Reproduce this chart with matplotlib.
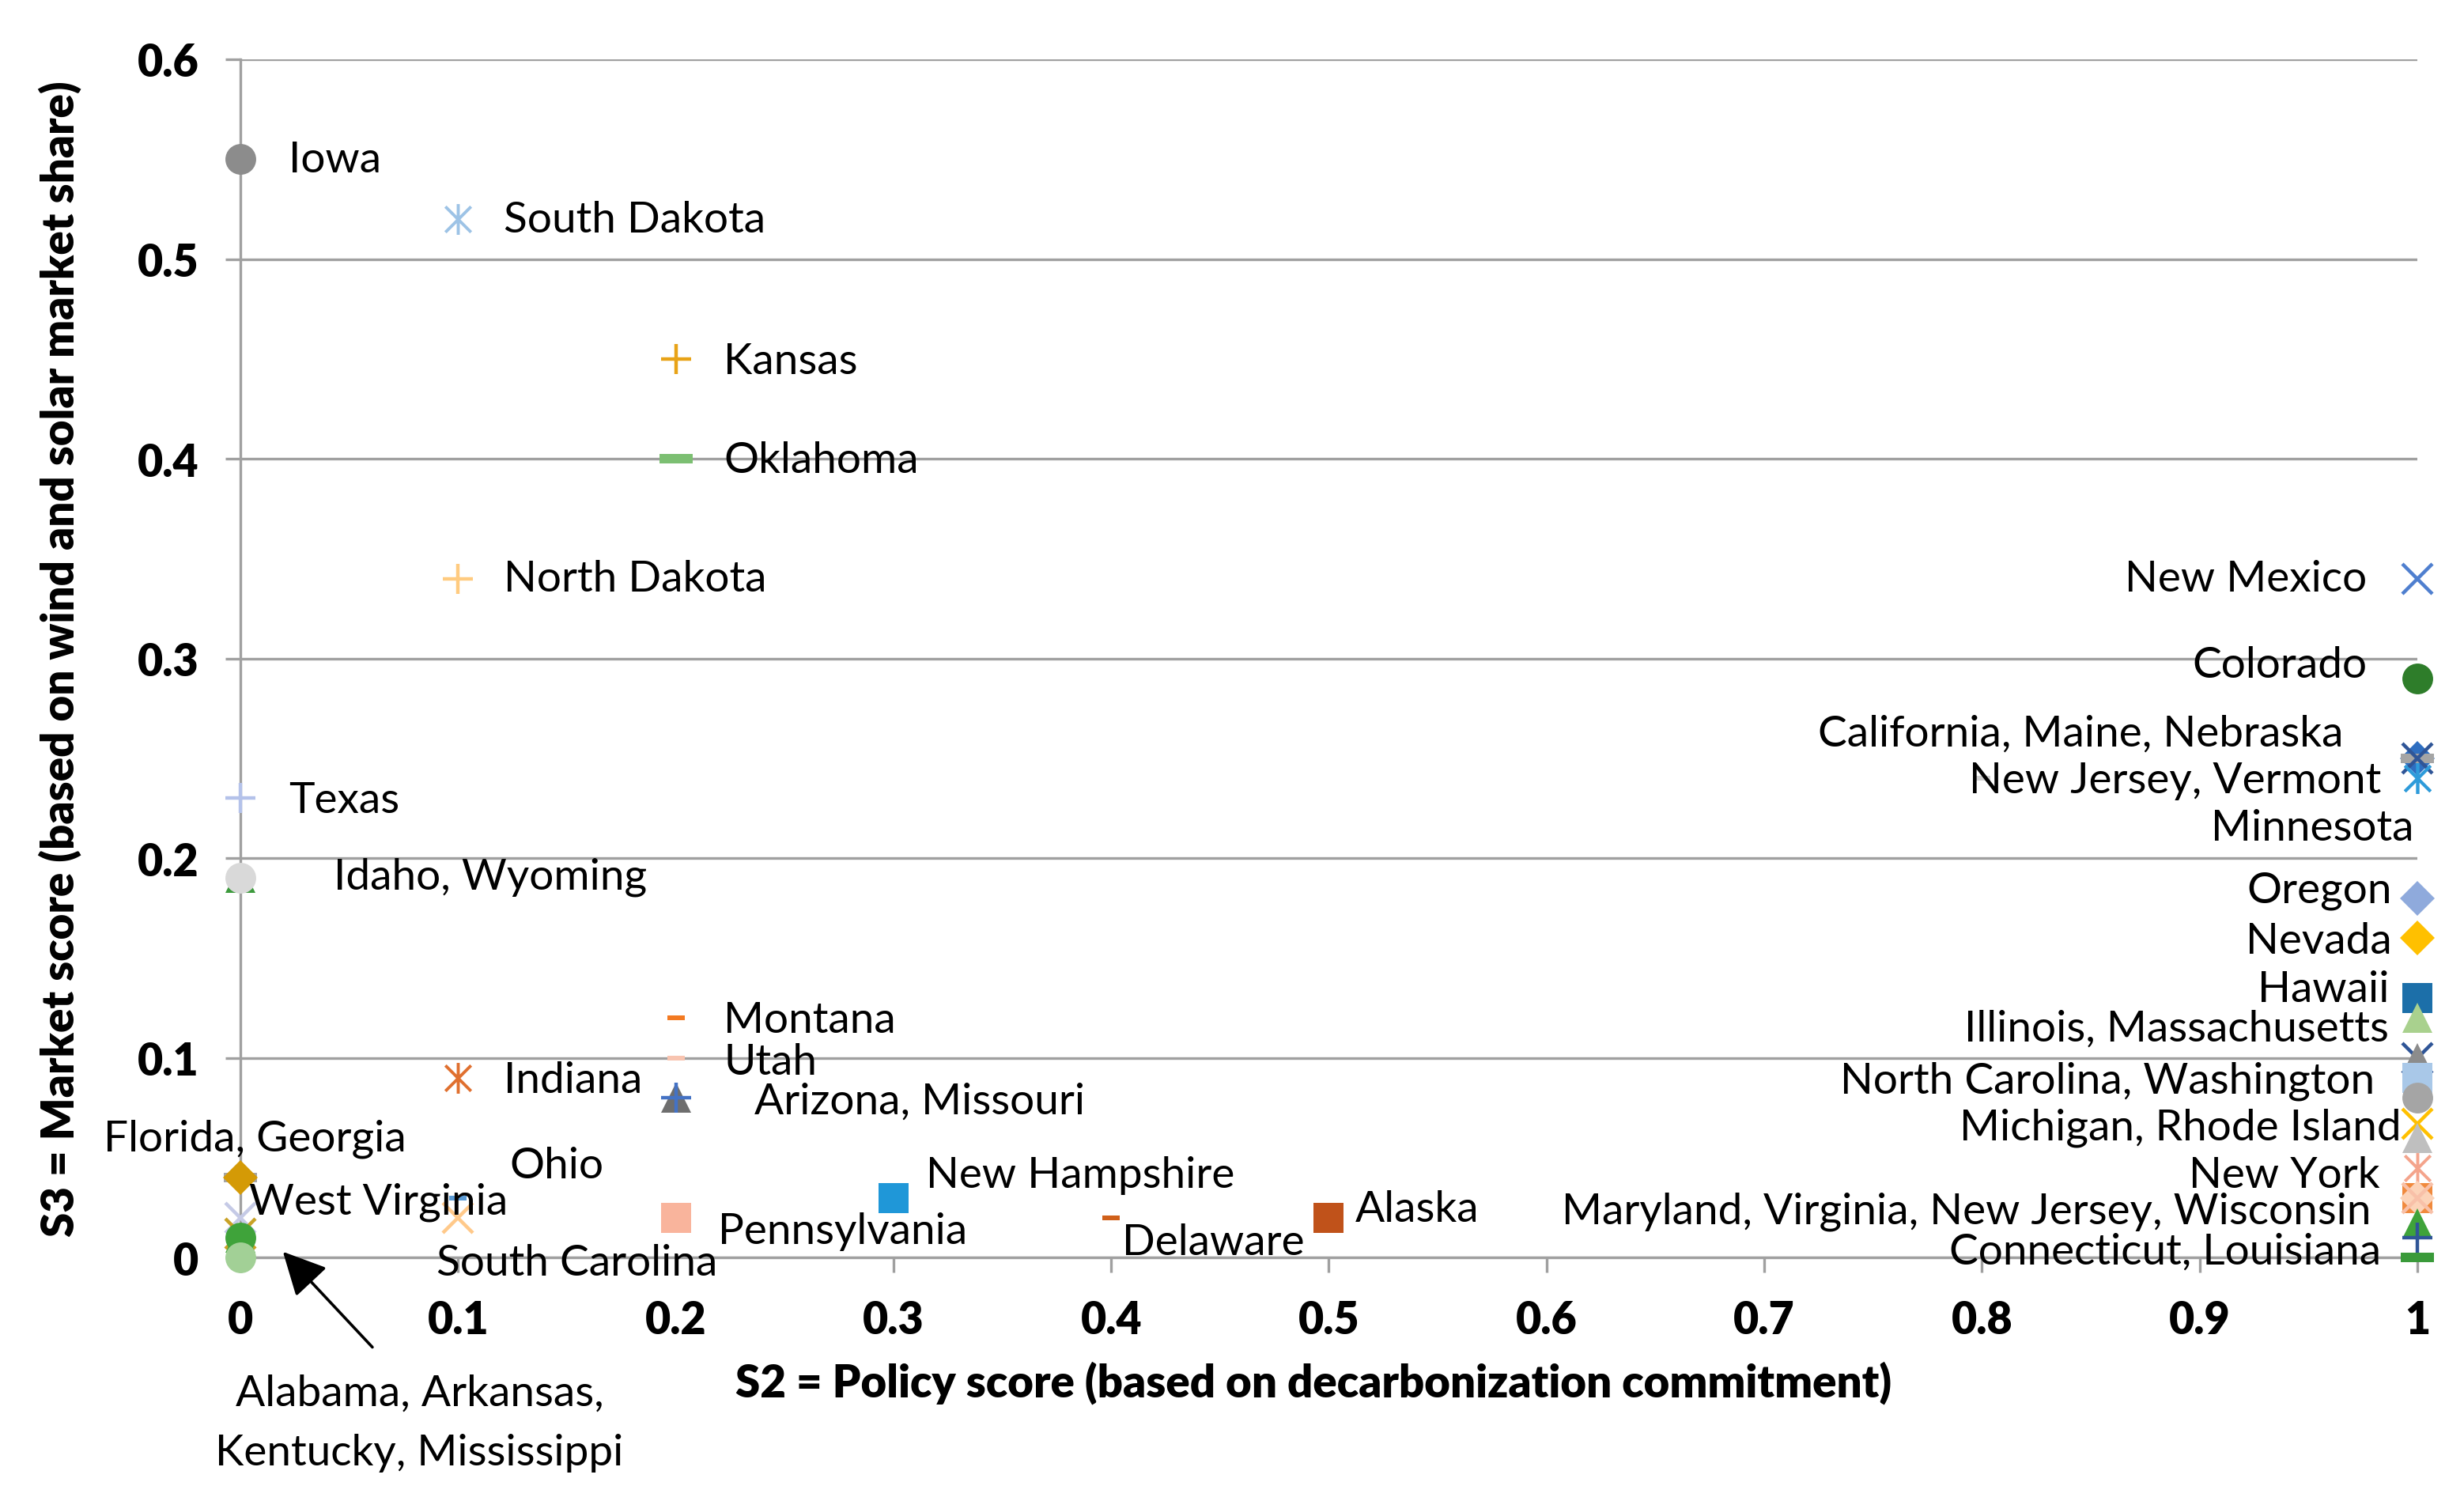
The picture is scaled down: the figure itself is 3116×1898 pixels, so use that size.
import numpy as np
import matplotlib
matplotlib.use("Agg")
import matplotlib.pyplot as plt
from matplotlib.path import Path

plt.rcParams['font.family'] = ['Lato', 'DejaVu Sans']

# ---- data: one entry per plotted marker ----
states = ['Iowa', 'South Dakota', 'Kansas', 'Oklahoma', 'North Dakota', 'Texas',
          'Wyoming', 'Idaho', 'Montana', 'Utah', 'Indiana', 'Missouri', 'Arizona',
          'Georgia', 'Florida', 'West Virginia', 'Ohio', 'South Carolina',
          'Pennsylvania', 'New Hampshire', 'Delaware', 'Alaska',
          'Alabama', 'Arkansas', 'Kentucky', 'Mississippi',
          'New Mexico', 'Colorado', 'California', 'Maine', 'Nebraska',
          'New Jersey', 'Vermont', 'Minnesota', 'Oregon', 'Nevada', 'Hawaii',
          'Illinois', 'Massachusetts', 'Massachusetts (2)', 'North Carolina',
          'Washington', 'Michigan', 'Rhode Island', 'New York', 'Maryland',
          'Virginia', 'New Jersey (2)', 'Wisconsin', 'Connecticut', 'Louisiana']
s2 = [0, 0.1, 0.2, 0.2, 0.1, 0,
      0, 0, 0.2, 0.2, 0.1, 0.2, 0.2,
      0, 0, 0, 0.1, 0.1,
      0.2, 0.3, 0.4, 0.5,
      0, 0, 0, 0,
      1, 1, 1, 1, 1,
      1, 1, 0.8, 1, 1, 1,
      1, 1, 1, 1,
      1, 1, 1, 1, 1,
      1, 1, 1, 1, 1]
s3 = [0.55, 0.52, 0.45, 0.40, 0.34, 0.23,
      0.19, 0.19, 0.12, 0.10, 0.09, 0.08, 0.08,
      0.04, 0.04, 0.02, 0.03, 0.02,
      0.02, 0.03, 0.02, 0.02,
      0.012, 0.01, 0.01, 0.0,
      0.34, 0.29, 0.25, 0.25, 0.25,
      0.24, 0.24, 0.24, 0.18, 0.16, 0.13,
      0.12, 0.10, 0.10, 0.09,
      0.08, 0.067, 0.06, 0.045, 0.03,
      0.03, 0.03, 0.017, 0.01, 0.0]

# ---- marker styles (same order as the data) ----
markers = ['o', 'star', '+', 'dash', '+', '+',
           '^', 'o', 'dash_s', 'dash_s', 'star', '^', '+',
           'dash', 'D', 'x', 'dash_s', 'x',
           's', 's', 'dash_s', 's',
           'x', '^', 'o', 'o',
           'x', 'o', 'D', 'dash', 'x',
           'star', 'star', 'dash_s', 'D', 'D', 's',
           '^', 'x', '^', 's',
           'o', 'x', '^', 'star', 's',
           'D', 'x', '^', '+', 'dash']
colors = ['#8C8C8C', '#9DC3E6', '#E8A317', '#7CBF72', '#FFCB80', '#B4C2EA',
          '#3C9A3C', '#D9D9D9', '#F37A22', '#F8C4B0', '#E0702F', '#6E6E6E', '#4472C4',
          '#A5A5A5', '#D49A06', '#C5CAE6', '#5B9BD5', '#FFC98A',
          '#F9B49C', '#1F97D8', '#D0601A', '#C0521A',
          '#C9A227', '#3FA33A', '#3FA33A', '#A2D096',
          '#4F7FCF', '#2E7D2A', '#2E6EC0', '#A5A5A5', '#2F5597',
          '#2E9BDA', '#2E9BDA', '#CFCFCF', '#8FAADC', '#FFC000', '#1C6FA9',
          '#A9D18E', '#2F5597', '#8C8C8C', '#A9C8E8',
          '#A5A5A5', '#FFC000', '#BFBFBF', '#F4A48C', '#F08A3E',
          '#FCD3B8', '#F8C0A8', '#3FA33A', '#2F5597', '#3A9A3A']

# ---- text labels ----
left_labels = ['Iowa', 'South Dakota', 'Kansas', 'Oklahoma', 'North Dakota', 'Texas',
               'Idaho, Wyoming', 'Montana', 'Utah', 'Indiana', 'Arizona, Missouri',
               'Florida, Georgia', 'Ohio', 'West Virginia', 'New Hampshire',
               'South Carolina', 'Pennsylvania', 'Delaware', 'Alaska']
left_xy = [(0.022, 0.55), (0.121, 0.52), (0.222, 0.449), (0.222, 0.3995),
           (0.121, 0.34), (0.022, 0.229), (0.043, 0.191), (0.222, 0.119),
           (0.222, 0.098), (0.121, 0.089), (0.236, 0.0786), (-0.063, 0.06),
           (0.1235, 0.0464), (0.004, 0.0283), (0.315, 0.0417), (0.090, -0.0024),
           (0.2195, 0.0134), (0.405, 0.0079), (0.512, 0.0244)]
right_labels = ['New Mexico', 'Colorado', 'California, Maine, Nebraska',
                'New Jersey, Vermont', 'Minnesota', 'Oregon', 'Nevada', 'Hawaii',
                'Illinois, Massachusetts', 'North Carolina, Washington',
                'Michigan, Rhode Island', 'New York',
                'Maryland, Virginia, New Jersey, Wisconsin', 'Connecticut, Louisiana']
right_xy = [(0.977, 0.34), (0.977, 0.297), (0.966, 0.2626), (0.9834, 0.239),
            (0.9986, 0.2155), (0.9884, 0.184), (0.9884, 0.1588), (0.987, 0.1345),
            (0.987, 0.1148), (0.9805, 0.0889), (0.9928, 0.0653), (0.9827, 0.0417),
            (0.979, 0.0236), (0.9834, 0.0031)]

xticks = [0, 0.1, 0.2, 0.3, 0.4, 0.5, 0.6, 0.7, 0.8, 0.9, 1]
xtick_labels = ['0', '0.1', '0.2', '0.3', '0.4', '0.5', '0.6', '0.7', '0.8', '0.9', '1']
yticks = [0, 0.1, 0.2, 0.3, 0.4, 0.5, 0.6]
ytick_labels = ['0', '0.1', '0.2', '0.3', '0.4', '0.5', '0.6']

DASH = Path([(-1, -0.3), (1, -0.3), (1, 0.3), (-1, 0.3), (-1, -0.3)], closed=True)
STAR = Path([(-1, -1), (1, 1), (-1, 1), (1, -1), (0, -1.2), (0, 1.2)],
            [Path.MOVETO, Path.LINETO, Path.MOVETO, Path.LINETO, Path.MOVETO, Path.LINETO])

fig = plt.figure(figsize=(15.58, 9.495), dpi=200)
ax = fig.add_axes([0.0976, 0.162, 0.8834, 0.798])

for x, y, m, c in zip(s2, s3, markers, colors):
    if m == 'star':
        ax.plot(x, y, marker=STAR, ls='none', ms=14, mec=c, mfc='none', mew=1.4, clip_on=False, zorder=3)
    elif m in ('x', '+'):
        ax.plot(x, y, marker=m, ls='none', ms=14, mec=c, mew=1.6, clip_on=False, zorder=3)
    elif m == 'dash':
        ax.plot(x, y, marker=DASH, ls='none', ms=15, color=c, mew=0, clip_on=False, zorder=3)
    elif m == 'dash_s':
        ax.plot(x, y, marker=DASH, ls='none', ms=8, color=c, mew=0, clip_on=False, zorder=3)
    elif m == 'D':
        ax.plot(x, y, marker='D', ls='none', ms=11, color=c, mew=0, clip_on=False, zorder=3)
    else:
        ax.plot(x, y, marker=m, ls='none', ms=14, color=c, mew=0, clip_on=False, zorder=3)

lab_fs = 19.8
for t, (x, y) in zip(left_labels, left_xy):
    ax.text(x, y, t, ha='left', va='center', fontsize=lab_fs, zorder=4)
for t, (x, y) in zip(right_labels, right_xy):
    ax.text(x, y, t, ha='right', va='center', fontsize=lab_fs, zorder=4)

# note and arrow for the states at the origin
ax.text(0.0823, -0.0825, 'Alabama, Arkansas,\nKentucky, Mississippi', ha='center', va='center',
        fontsize=lab_fs, linespacing=1.65)
ax.annotate('', xy=(0.0195, 0.003), xytext=(0.0606, -0.0448), annotation_clip=False,
            arrowprops=dict(arrowstyle='-|>', color='black', lw=1.3,
                            mutation_scale=42, shrinkA=0, shrinkB=0))

ax.set_xlim(0, 1)
ax.set_ylim(0, 0.6)
ax.set_xticks(xticks)
ax.set_xticklabels(xtick_labels, fontsize=20, fontweight='heavy')
ax.set_yticks(yticks)
ax.set_yticklabels(ytick_labels, fontsize=20, fontweight='heavy')
ax.tick_params(axis='both', direction='out', length=7, width=1.2, color='#A0A0A0', pad=12)

ax.grid(axis='y', color='#A0A0A0', lw=1.2)
ax.set_axisbelow(True)
for side in ['top', 'right']:
    ax.spines[side].set_visible(False)
for side in ['left', 'bottom']:
    ax.spines[side].set_color('#A0A0A0')
    ax.spines[side].set_linewidth(1.2)

ax.set_xlabel('S2 = Policy score (based on decarbonization commitment)', fontsize=20.3, fontweight='heavy')
ax.xaxis.set_label_coords(0.493, -0.086)
ax.set_ylabel('S3 = Market score (based on wind and solar market share)', fontsize=20.3, fontweight='heavy')
ax.yaxis.set_label_coords(-0.073, 0.5)

fig.savefig('out.png', dpi=200)
